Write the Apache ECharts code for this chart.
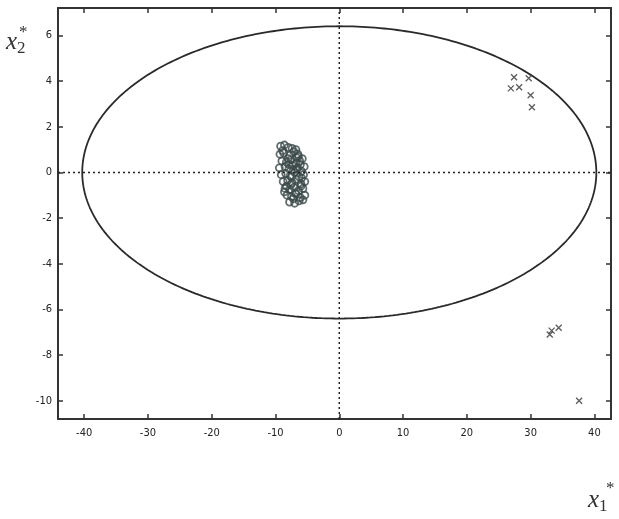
<!DOCTYPE html>
<html><head><meta charset="utf-8">
<script src="https://cdn.jsdelivr.net/npm/echarts@6/dist/echarts.min.js"></script>
<style>html,body{margin:0;padding:0;background:#fff}#c{width:619px;height:519px}</style>
</head><body><div id="c"></div>
<script>
const xTicks = [-40,-30,-20,-10,0,10,20,30,40];
const yTicks = [-10,-8,-6,-4,-2,0,2,4,6];
const xRange = [-44.1, 42.6];
const yRange = [-10.8, 7.2];
const ellipseAxes = [40.3, 6.4]; // semi-axes of control ellipse
const clusterX = [-9.2,-8.6,-8.0,-7.4,-6.8,-9.3,-8.7,-7.8,-7.1,-6.4,-5.8,-9.0,-8.3,-7.6,-6.8,-6.1,-9.4,-8.5,-7.9,-7.2,-6.6,-5.9,-9.1,-8.4,-7.7,-7.0,-6.3,-5.6,-8.8,-8.1,-7.4,-6.7,-6.0,-5.4,-8.5,-7.8,-7.1,-6.4,-5.7,-8.2,-7.5,-6.8,-6.1,-5.4,-7.8,-7.0,-6.3,-5.7,-7.6,-6.7,-8.9,-8.0,-7.3,-6.5,-5.9,-8.3,-7.5,-6.9,-6.2,-7.2,-6.6,-8.6,-5.5,-7.9,-6.0];
const clusterY = [1.15,1.2,1.1,1.05,1.0,0.8,0.85,0.75,0.9,0.7,0.6,0.5,0.45,0.55,0.4,0.35,0.2,0.25,0.15,0.1,0.2,0.05,-0.1,-0.05,-0.15,0.0,-0.2,-0.1,-0.4,-0.35,-0.45,-0.3,-0.5,-0.4,-0.7,-0.75,-0.65,-0.8,-0.7,-1.0,-1.05,-0.95,-1.1,-1.0,-1.3,-1.35,-1.25,-1.2,-0.55,0.65,0.95,0.6,0.3,0.8,-0.25,-0.6,-0.2,-0.9,0.5,-1.15,0.15,-0.85,0.25,0.35,-0.6];
const outlierX = [27.4,29.7,28.2,26.9,30.0,30.2,33.3,33.0,34.4,37.6];
const outlierY = [4.17,4.12,3.73,3.68,3.38,2.85,-6.93,-7.1,-6.8,-10.0];

const ellipse = [];
for (let i = 0; i <= 360; i++) {
  const t = i * Math.PI / 180;
  ellipse.push([ellipseAxes[0] * Math.cos(t), ellipseAxes[1] * Math.sin(t)]);
}
const cluster = clusterX.map((x, i) => [x, clusterY[i]]);
const outliers = outlierX.map((x, i) => [x, outlierY[i]]);

const ink = '#333';
const chart = echarts.init(document.getElementById('c'));
const axisBase = {
  type: 'value', splitLine: {show: false},
  axisLine: {show: true, onZero: false, lineStyle: {color: ink, width: 2}},
  axisTick: {inside: true, length: 5, lineStyle: {color: ink, width: 1.5}},
};
chart.setOption({
  animation: false,
  backgroundColor: '#fff',
  grid: {left: 58, right: 8, top: 8, bottom: 100, containLabel: false},
  xAxis: [
    Object.assign({}, axisBase, {min: xRange[0], max: xRange[1], position: 'bottom',
      axisTick: Object.assign({}, axisBase.axisTick, {customValues: xTicks}),
      axisLabel: {customValues: xTicks, color: '#222', fontSize: 11, fontFamily: 'DejaVu Sans Condensed', margin: 9}}),
    Object.assign({}, axisBase, {min: xRange[0], max: xRange[1], position: 'top',
      axisTick: Object.assign({}, axisBase.axisTick, {customValues: xTicks}),
      axisLabel: {show: false}})
  ],
  yAxis: [
    Object.assign({}, axisBase, {min: yRange[0], max: yRange[1], position: 'left',
      axisTick: Object.assign({}, axisBase.axisTick, {customValues: yTicks}),
      axisLabel: {customValues: yTicks, color: '#222', fontSize: 11, fontFamily: 'DejaVu Sans Condensed', margin: 6}}),
    Object.assign({}, axisBase, {min: yRange[0], max: yRange[1], position: 'right',
      axisTick: Object.assign({}, axisBase.axisTick, {customValues: yTicks}),
      axisLabel: {show: false}})
  ],
  series: [
    {type: 'line', data: [[xRange[0], 0], [xRange[1], 0]], symbol: 'none', silent: true,
      lineStyle: {color: '#222', width: 1.5, type: [2, 3]}},
    {type: 'line', data: [[0, yRange[0]], [0, yRange[1]]], symbol: 'none', silent: true,
      lineStyle: {color: '#222', width: 1.5, type: [2, 3]}},
    {type: 'line', data: ellipse, symbol: 'none', smooth: false, silent: true,
      lineStyle: {color: '#2a2a2a', width: 1.8}},
    {type: 'scatter', data: cluster, symbol: 'circle', symbolSize: 7,
      itemStyle: {color: 'rgba(0,0,0,0)', borderColor: '#3b4a48', borderWidth: 1.8}},
    {type: 'scatter', data: outliers, symbol: 'path://M0,0L10,10M10,0L0,10', symbolSize: 6,
      itemStyle: {color: 'rgba(0,0,0,0)', borderColor: '#333', borderWidth: 1.3}}
  ],
  graphic: [
    {type: 'text', left: 6, top: 30, style: {
      text: '{x|x}{s|2}', rich: {
        x: {fontFamily: 'Liberation Serif', fontStyle: 'italic', fontSize: 25, fill: '#333'},
        s: {fontFamily: 'Liberation Serif', fontSize: 17, fill: '#333', padding: [12, 0, 0, 0]}
      }}},
    {type: 'text', left: 19, top: 24, style: {text: '*', fontFamily: 'Liberation Serif', fontSize: 17, fill: '#333'}},
    {type: 'text', left: 588, top: 488, style: {
      text: '{x|x}{s|1}', rich: {
        x: {fontFamily: 'Liberation Serif', fontStyle: 'italic', fontSize: 25, fill: '#333'},
        s: {fontFamily: 'Liberation Serif', fontSize: 17, fill: '#333', padding: [12, 0, 0, 0]}
      }}},
    {type: 'text', left: 606, top: 480, style: {text: '*', fontFamily: 'Liberation Serif', fontSize: 17, fill: '#333'}}
  ]
});
</script></body></html>
